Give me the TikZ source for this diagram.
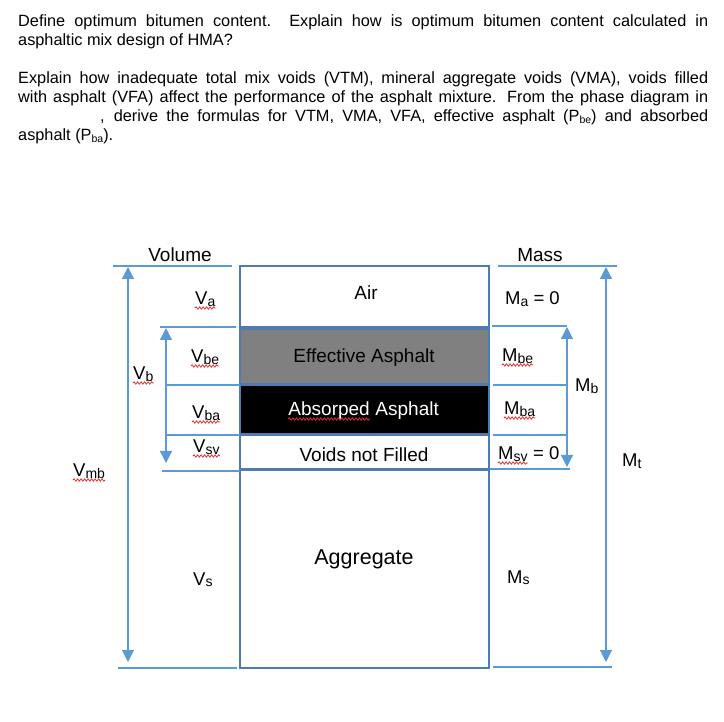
\documentclass[tikz,border=0pt]{standalone}
\usepackage{fontspec}
\setmainfont{Liberation Sans}
\usetikzlibrary{arrows.meta,decorations.pathmorphing}
\definecolor{lblue}{HTML}{5B9BD5}
\definecolor{bblue}{HTML}{4F7BAE}
\definecolor{gfill}{HTML}{808080}
\definecolor{squigred}{HTML}{E03030}
\newcommand{\dsub}[1]{\raisebox{-1.5pt}{\fontsize{14}{14}\selectfont #1}}
\newcommand{\tsub}[1]{\raisebox{-1.5pt}{\fontsize{10.5}{10.5}\selectfont #1}}
\begin{document}
\begin{tikzpicture}[x=1pt,y=-1pt,
  qline/.style={anchor=base west, inner sep=0pt, font=\fontsize{16.3}{19}\selectfont},
  guide/.style={draw=lblue, line width=1.2pt},
  dimarrow/.style={draw=lblue, line width=1.2pt,
     {Triangle[width=12pt,length=12pt,fill=lblue]}-{Triangle[width=12pt,length=12pt,fill=lblue]}},
  layer/.style={draw=bblue, line width=2pt},
  boxtext/.style={anchor=base, inner sep=0pt, font=\fontsize{19}{20}\selectfont},
  lbl/.style={anchor=base west, inner sep=0pt, font=\fontsize{18.5}{20}\selectfont},
  squig/.style={draw=squigred, line width=0.8pt,
     decorate, decoration={snake, amplitude=1.2pt, segment length=3.5pt}}
]
\useasboundingbox (0,0) rectangle (724,722);

% ---------- question text ----------
\node[qline] (q1) at (18,27) {\makebox[690pt][s]{Define optimum bitumen content.\ \ Explain how is optimum bitumen content calculated in}};
\node[qline] (q2) at (18,46) {asphaltic mix design of HMA?};
\node[qline] (q3) at (18,84) {\makebox[690pt][s]{Explain how inadequate total mix voids (VTM), mineral aggregate voids (VMA), voids filled}};
\node[qline] (q4) at (18,103) {\makebox[690pt][s]{with asphalt (VFA) affect the performance of the asphalt mixture. From the phase diagram in}};
\node[qline] (q5) at (100,122) {\makebox[608pt][s]{, derive the formulas for VTM, VMA, VFA, effective asphalt (P\tsub{be}) and absorbed}};
\node[qline] (q6) at (18,141) {asphalt (P\tsub{ba}).};

% ---------- headings ----------
\node[boxtext] (volume) at (180,262) {Volume};
\node[boxtext] (mass) at (540,262) {Mass};

% ---------- phase box ----------
\draw[layer] (240,266) rectangle (489,327);
\draw[layer, fill=gfill] (240,329) rectangle (489,384);
\draw[layer, fill=black] (240,385) rectangle (489,434);
\draw[layer] (240,435) rectangle (489,469);
\draw[layer] (240,470) rectangle (489,668);

\node[boxtext] (air) at (366,300) {Air};
\node[boxtext] (eff) at (364,363) {Effective Asphalt};
\node[boxtext, anchor=base east, text=white] (absA) at (370,416) {Absorped};
\node[boxtext, anchor=base west, text=white] (absB) at (absA.base east) {\ Asphalt};
\node[boxtext] (voids) at (364,462) {Voids not Filled};
\node[boxtext, font=\fontsize{21.5}{22}\selectfont] (agg) at (364,564) {Aggregate};

% ---------- guide lines (left) ----------
\draw[guide] (113,266) -- (232,266);
\draw[guide] (160,327) -- (236,327);
\draw[guide] (165,385) -- (240,385);
\draw[guide] (167,435) -- (240,435);
\draw[guide] (162,471) -- (240,471);
\draw[guide] (118,668) -- (237,668);

% ---------- guide lines (right) ----------
\draw[guide] (498,266) -- (617,266);
\draw[guide] (492,326) -- (567,326);
\draw[guide] (493,385) -- (568,385);
\draw[guide] (493,435) -- (568,435);
\draw[guide] (490,469) -- (570,469);
\draw[guide] (493,667) -- (612,667);

% ---------- dimension arrows ----------
\coordinate (vmbT) at (128,267);
\coordinate (vmbB) at (128,662);
\coordinate (vbT) at (166,328);
\coordinate (vbB) at (166,463);
\coordinate (mbT) at (567,327);
\coordinate (mbB) at (567,467);
\coordinate (mtT) at (606,267);
\coordinate (mtB) at (606,662);
\draw[dimarrow] (vmbT) -- (vmbB);
\draw[dimarrow] (vbT) -- (vbB);
\draw[dimarrow] (mbT) -- (mbB);
\draw[dimarrow] (mtT) -- (mtB);

% ---------- volume labels ----------
\node[lbl] (va) at (195,305) {V\dsub{a}};
\node[lbl] (vbe) at (191,363) {V\dsub{be}};
\node[lbl] (vb) at (133,380) {V\dsub{b}};
\node[lbl] (vba) at (192,419) {V\dsub{ba}};
\node[lbl] (vsv) at (193,453) {V\dsub{sv}};
\node[lbl] (vmb) at (73,477) {V\dsub{mb}};
\node[lbl] (vs) at (193,585) {V\dsub{s}};

% ---------- mass labels ----------
\node[lbl] (ma) at (505,305) {M\dsub{a} = 0};
\node[lbl] (mbe) at (502,362) {M\dsub{be}};
\node[lbl] (mb) at (575,392) {M\dsub{b}};
\node[lbl] (mba) at (504,415) {M\dsub{ba}};
\node[lbl] (msv) at (498,460) {M\dsub{sv}};
\node[lbl] (msveq) at (msv.base east) {\ = 0};
\node[lbl] (mt) at (622,467) {M\dsub{t}};
\node[lbl] (ms) at (507,583) {M\dsub{s}};

% ---------- spell-check squiggles ----------
\foreach \n in {va,vbe,vb,vba,vsv,vmb,mbe,mba,msv,absA}{
  \draw[squig] ([yshift=-3pt]\n.base west) -- ([yshift=-3pt]\n.base east);
}
\end{tikzpicture}
\end{document}
